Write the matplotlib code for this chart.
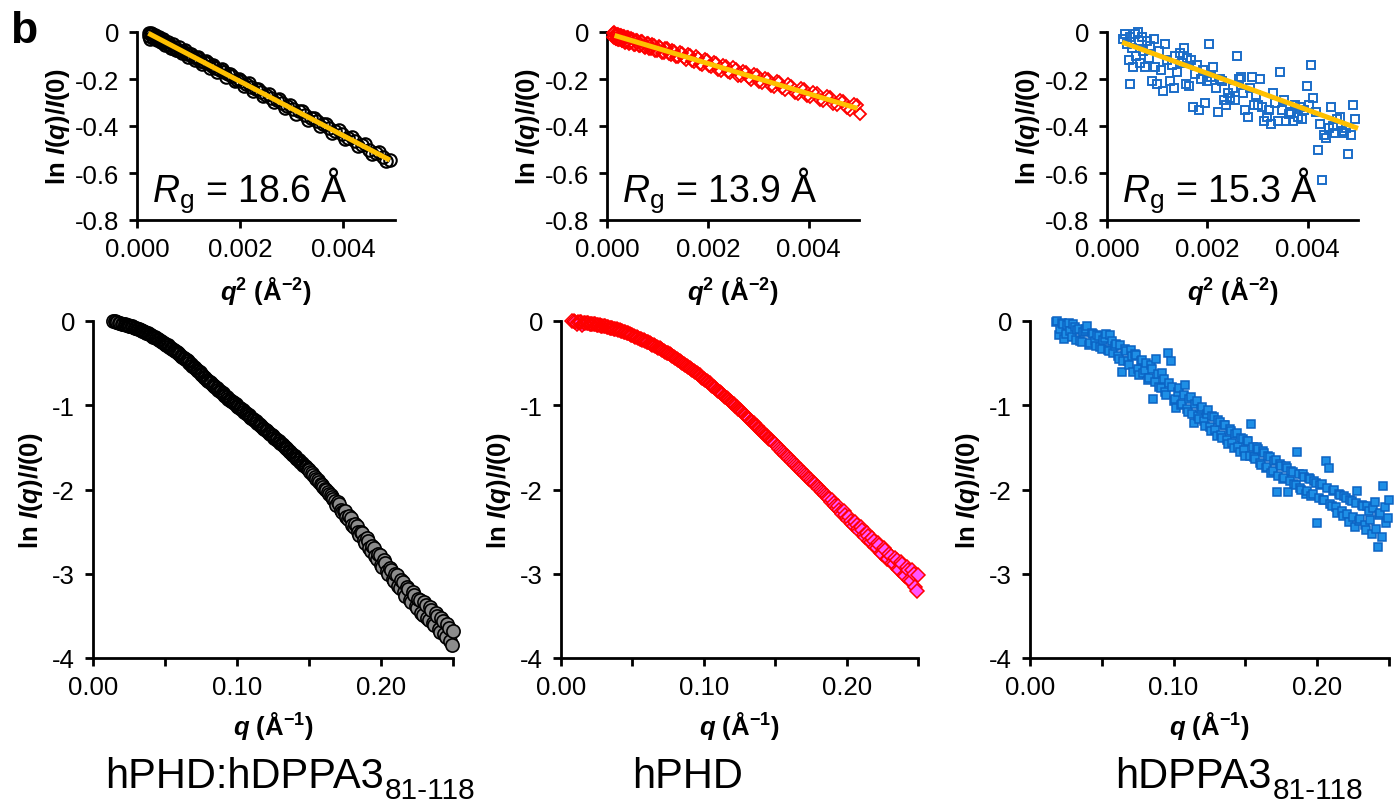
import matplotlib
matplotlib.use("Agg")
import matplotlib.pyplot as plt

plt.rcParams["font.family"] = ["Liberation Sans", "DejaVu Sans"]
plt.rcParams["mathtext.fontset"] = "custom"
plt.rcParams["mathtext.rm"] = "Liberation Sans"
plt.rcParams["mathtext.it"] = "Liberation Sans:italic"
plt.rcParams["mathtext.bf"] = "Liberation Sans:bold"
try:
    plt.rcParams["mathtext.bfit"] = "Liberation Sans:bold:italic"
except KeyError:
    pass
plt.rcParams["axes.unicode_minus"] = False

# ---------------- data ----------------
sample_names = ["hPHD:hDPPA3", "hPHD", "hDPPA3"]
sample_subs = ["81-118", "", "81-118"]
rg_values = [18.6, 13.9, 15.3]          # Angstrom
fit_intercepts = [0.02, -0.005, -0.02]
fit_q2_start = [0.00022, 0.00015, 0.0003]
fit_q2_end = [0.0049, 0.00497, 0.005]

# Guinier region, complex (two interleaved q grids)
guinier_q2_complex = [
    0.000225, 0.000256, 0.000289, 0.000324, 0.000361, 0.000400, 0.000441, 0.000484, 0.000529, 0.000576,
    0.000625, 0.000676, 0.000729, 0.000784, 0.000841, 0.000900, 0.000961, 0.001024, 0.001089, 0.001156,
    0.001225, 0.001296, 0.001369, 0.001444, 0.001521, 0.001600, 0.001681, 0.001764, 0.001849, 0.001936,
    0.002025, 0.002116, 0.002209, 0.002304, 0.002401, 0.002500, 0.002601, 0.002704, 0.002809, 0.002916,
    0.003025, 0.003136, 0.003249, 0.003364, 0.003481, 0.003600, 0.003721, 0.003844, 0.003969, 0.004096,
    0.004225, 0.004356, 0.004489, 0.004624, 0.004761, 0.004900]
guinier_ln_complex = [
    -0.005, -0.028, -0.010, -0.017, -0.022, -0.031, -0.030, -0.041, -0.043, -0.051,
    -0.055, -0.066, -0.062, -0.076, -0.079, -0.082, -0.093, -0.095, -0.107, -0.110,
    -0.122, -0.126, -0.134, -0.143, -0.153, -0.160, -0.172, -0.180, -0.187, -0.204,
    -0.210, -0.222, -0.233, -0.243, -0.254, -0.268, -0.279, -0.288, -0.303, -0.314,
    -0.329, -0.338, -0.355, -0.366, -0.380, -0.393, -0.409, -0.421, -0.436, -0.451,
    -0.465, -0.482, -0.500, -0.513, -0.531, -0.545]
guinier_q2_complex_b = [
    0.000240, 0.000272, 0.000306, 0.000342, 0.000380, 0.000420, 0.000462, 0.000506, 0.000552, 0.000600,
    0.000650, 0.000702, 0.000756, 0.000812, 0.000870, 0.000930, 0.000992, 0.001056, 0.001122, 0.001190,
    0.001260, 0.001332, 0.001406, 0.001482, 0.001560, 0.001640, 0.001722, 0.001806, 0.001892, 0.001980,
    0.002070, 0.002162, 0.002256, 0.002352, 0.002450, 0.002550, 0.002652, 0.002756, 0.002862, 0.002970,
    0.003080, 0.003192, 0.003306, 0.003422, 0.003540, 0.003660, 0.003782, 0.003906, 0.004032, 0.004160,
    0.004290, 0.004422, 0.004556, 0.004692, 0.004830]
guinier_ln_complex_b = [
    -0.018, -0.004, -0.025, -0.012, -0.033, -0.021, -0.043, -0.030, -0.054, -0.041,
    -0.066, -0.052, -0.078, -0.065, -0.091, -0.078, -0.105, -0.093, -0.120, -0.108,
    -0.136, -0.124, -0.153, -0.141, -0.171, -0.159, -0.190, -0.178, -0.210, -0.198,
    -0.230, -0.219, -0.252, -0.241, -0.274, -0.263, -0.298, -0.287, -0.322, -0.311,
    -0.347, -0.337, -0.373, -0.364, -0.400, -0.391, -0.429, -0.419, -0.457, -0.448,
    -0.487, -0.478, -0.518, -0.509, -0.548]

# Guinier region, hPHD
guinier_q2_phd = [
    0.000121, 0.000144, 0.000169, 0.000196, 0.000225, 0.000256, 0.000289, 0.000324, 0.000361, 0.000400,
    0.000441, 0.000484, 0.000529, 0.000576, 0.000625, 0.000676, 0.000729, 0.000784, 0.000841, 0.000900,
    0.000961, 0.001024, 0.001089, 0.001156, 0.001225, 0.001296, 0.001369, 0.001444, 0.001521, 0.001600,
    0.001681, 0.001764, 0.001849, 0.001936, 0.002025, 0.002116, 0.002209, 0.002304, 0.002401, 0.002500,
    0.002601, 0.002704, 0.002809, 0.002916, 0.003025, 0.003136, 0.003249, 0.003364, 0.003481, 0.003600,
    0.003721, 0.003844, 0.003969, 0.004096, 0.004225, 0.004356, 0.004489, 0.004624, 0.004761, 0.004900,
    0.005020]
guinier_ln_phd = [
    -0.020, -0.002, -0.030, -0.008, -0.035, -0.012, -0.040, -0.015, -0.045, -0.020,
    -0.050, -0.026, -0.055, -0.032, -0.060, -0.038, -0.062, -0.045, -0.072, -0.050,
    -0.080, -0.058, -0.088, -0.066, -0.095, -0.075, -0.108, -0.084, -0.112, -0.093,
    -0.125, -0.104, -0.137, -0.117, -0.146, -0.128, -0.160, -0.140, -0.170, -0.150,
    -0.186, -0.165, -0.195, -0.180, -0.212, -0.195, -0.228, -0.208, -0.240, -0.222,
    -0.258, -0.240, -0.272, -0.255, -0.290, -0.272, -0.305, -0.290, -0.322, -0.305,
    -0.350]
guinier_q2_phd_b = [
    0.000110, 0.000132, 0.000156, 0.000182, 0.000210, 0.000240, 0.000272, 0.000306, 0.000342, 0.000380,
    0.000420, 0.000462, 0.000506, 0.000552, 0.000600, 0.000650, 0.000702, 0.000756, 0.000812, 0.000870,
    0.000930, 0.000992, 0.001056, 0.001122, 0.001190, 0.001260, 0.001332, 0.001406, 0.001482, 0.001560,
    0.001640, 0.001722, 0.001806, 0.001892, 0.001980, 0.002070, 0.002162, 0.002256, 0.002352, 0.002450,
    0.002550, 0.002652, 0.002756, 0.002862, 0.002970, 0.003080, 0.003192, 0.003306, 0.003422, 0.003540,
    0.003660, 0.003782, 0.003906, 0.004032, 0.004160, 0.004290, 0.004422, 0.004556, 0.004692, 0.004830,
    0.004970]
guinier_ln_phd_b = [
    -0.005, -0.025, -0.008, -0.030, -0.010, -0.034, -0.014, -0.038, -0.018, -0.042,
    -0.022, -0.048, -0.028, -0.054, -0.034, -0.060, -0.040, -0.066, -0.047, -0.074,
    -0.054, -0.082, -0.062, -0.090, -0.070, -0.099, -0.079, -0.108, -0.088, -0.118,
    -0.099, -0.129, -0.109, -0.140, -0.120, -0.151, -0.132, -0.164, -0.144, -0.176,
    -0.157, -0.189, -0.170, -0.203, -0.184, -0.217, -0.198, -0.232, -0.213, -0.247,
    -0.228, -0.262, -0.244, -0.278, -0.260, -0.295, -0.277, -0.312, -0.295, -0.330,
    -0.312]

# Guinier region, hDPPA3
guinier_q2_dppa3 = [
    0.00031, 0.00036, 0.00039, 0.00043, 0.00046, 0.00046, 0.00049, 0.00052, 0.00055, 0.00058,
    0.00061, 0.00063, 0.00066, 0.00069, 0.00072, 0.00076, 0.00079, 0.00083, 0.00086, 0.00090,
    0.00093, 0.00096, 0.00100, 0.00104, 0.00107, 0.00112, 0.00116, 0.00120, 0.00125, 0.00130,
    0.00133, 0.00136, 0.00140, 0.00145, 0.00150, 0.00153, 0.00157, 0.00160, 0.00163, 0.00168,
    0.00172, 0.00175, 0.00180, 0.00184, 0.00187, 0.00191, 0.00195, 0.00200, 0.00204, 0.00208,
    0.00212, 0.00218, 0.00222, 0.00226, 0.00230, 0.00234, 0.00238, 0.00242, 0.00246, 0.00250,
    0.00255, 0.00258, 0.00262, 0.00267, 0.00271, 0.00275, 0.00280, 0.00284, 0.00288, 0.00292,
    0.00296, 0.00300, 0.00305, 0.00309, 0.00313, 0.00318, 0.00322, 0.00326, 0.00330, 0.00335,
    0.00340, 0.00344, 0.00348, 0.00352, 0.00357, 0.00362, 0.00366, 0.00370, 0.00375, 0.00380,
    0.00384, 0.00388, 0.00393, 0.00398, 0.00402, 0.00407, 0.00411, 0.00416, 0.00420, 0.00424,
    0.00429, 0.00433, 0.00437, 0.00442, 0.00446, 0.00450, 0.00455, 0.00459, 0.00464, 0.00468,
    0.00472, 0.00477, 0.00481, 0.00486, 0.00490, 0.00495]
guinier_ln_dppa3 = [
    -0.03, -0.01, -0.05, -0.12, -0.02, -0.22, -0.07, -0.15, -0.01, -0.10,
    0.00, -0.04, -0.13, -0.02, -0.08, -0.15, -0.04, -0.11, -0.06, -0.21,
    -0.03, -0.15, -0.22, -0.08, -0.16, -0.25, -0.05, -0.12, -0.21, -0.14,
    -0.24, -0.10, -0.17, -0.09, -0.13, -0.07, -0.22, -0.11, -0.23, -0.12,
    -0.32, -0.18, -0.14, -0.33, -0.20, -0.16, -0.30, -0.21, -0.05, -0.19,
    -0.15, -0.24, -0.34, -0.20, -0.21, -0.29, -0.31, -0.26, -0.28, -0.24,
    -0.29, -0.10, -0.20, -0.19, -0.26, -0.33, -0.36, -0.24, -0.19, -0.31,
    -0.27, -0.31, -0.20, -0.32, -0.38, -0.36, -0.33, -0.39, -0.26, -0.30,
    -0.38, -0.17, -0.33, -0.29, -0.38, -0.35, -0.34, -0.38, -0.31, -0.36,
    -0.32, -0.37, -0.33, -0.23, -0.31, -0.14, -0.28, -0.34, -0.50, -0.39,
    -0.63, -0.44, -0.45, -0.41, -0.32, -0.40, -0.43, -0.37, -0.36, -0.42,
    -0.43, -0.41, -0.52, -0.44, -0.31, -0.37]

# Full curves, complex
q_complex = [
    0.014, 0.016, 0.018, 0.020, 0.022, 0.024, 0.026, 0.028, 0.030, 0.032,
    0.034, 0.036, 0.038, 0.040, 0.042, 0.044, 0.046, 0.048, 0.050, 0.052,
    0.054, 0.056, 0.058, 0.060, 0.062, 0.064, 0.066, 0.068, 0.070, 0.072,
    0.074, 0.076, 0.078, 0.080, 0.082, 0.084, 0.086, 0.088, 0.090, 0.092,
    0.094, 0.096, 0.098, 0.100, 0.102, 0.104, 0.106, 0.108, 0.110, 0.112,
    0.114, 0.116, 0.118, 0.120, 0.122, 0.124, 0.126, 0.128, 0.130, 0.132,
    0.134, 0.136, 0.138, 0.140, 0.142, 0.144, 0.146, 0.148, 0.150, 0.152,
    0.154, 0.156, 0.158, 0.160, 0.162, 0.164, 0.166, 0.168, 0.170, 0.172,
    0.174, 0.176, 0.178, 0.180, 0.182, 0.184, 0.186, 0.188, 0.190, 0.192,
    0.194, 0.196, 0.198, 0.200, 0.202, 0.204, 0.206, 0.208, 0.210, 0.212,
    0.214, 0.216, 0.218, 0.220, 0.222, 0.224, 0.226, 0.228, 0.230, 0.232,
    0.234, 0.236, 0.238, 0.240, 0.242, 0.244, 0.246, 0.248, 0.250]
ln_complex = [
    0.0, -0.01, -0.02, -0.03, -0.04, -0.05, -0.06, -0.07, -0.085, -0.10,
    -0.115, -0.13, -0.145, -0.165, -0.185, -0.205, -0.225, -0.245, -0.27, -0.29,
    -0.315, -0.34, -0.37, -0.395, -0.425, -0.45, -0.48, -0.515, -0.545, -0.58,
    -0.61, -0.645, -0.68, -0.71, -0.74, -0.77, -0.80, -0.83, -0.86, -0.89,
    -0.92, -0.95, -0.975, -1.005, -1.035, -1.06, -1.09, -1.12, -1.15, -1.175,
    -1.205, -1.235, -1.265, -1.295, -1.325, -1.355, -1.385, -1.415, -1.445, -1.475,
    -1.51, -1.54, -1.575, -1.605, -1.64, -1.67, -1.705, -1.735, -1.77, -1.81,
    -1.85, -1.89, -1.93, -1.97, -2.01, -2.05, -2.09, -2.135, -2.15, -2.24,
    -2.25, -2.33, -2.32, -2.42, -2.41, -2.51, -2.50, -2.60, -2.58, -2.70,
    -2.67, -2.79, -2.76, -2.90, -2.84, -2.97, -2.93, -3.06, -3.00, -3.14,
    -3.07, -3.22, -3.16, -3.31, -3.22, -3.38, -3.30, -3.46, -3.33, -3.52,
    -3.40, -3.58, -3.47, -3.66, -3.52, -3.72, -3.60, -3.80, -3.68]
q_complex_b = [
    0.015, 0.017, 0.019, 0.021, 0.023, 0.025, 0.027, 0.029, 0.031, 0.033,
    0.035, 0.037, 0.039, 0.041, 0.043, 0.045, 0.047, 0.049, 0.051, 0.053,
    0.055, 0.057, 0.059, 0.061, 0.063, 0.065, 0.067, 0.069, 0.071, 0.073,
    0.075, 0.077, 0.079, 0.081, 0.083, 0.085, 0.087, 0.089, 0.091, 0.093,
    0.095, 0.097, 0.099, 0.101, 0.103, 0.105, 0.107, 0.109, 0.111, 0.113,
    0.115, 0.117, 0.119, 0.121, 0.123, 0.125, 0.127, 0.129, 0.131, 0.133,
    0.135, 0.137, 0.139, 0.141, 0.143, 0.145, 0.147, 0.149, 0.151, 0.153,
    0.155, 0.157, 0.159, 0.161, 0.163, 0.165, 0.167, 0.169, 0.171, 0.173,
    0.175, 0.177, 0.179, 0.181, 0.183, 0.185, 0.187, 0.189, 0.191, 0.193,
    0.195, 0.197, 0.199, 0.201, 0.203, 0.205, 0.207, 0.209, 0.211, 0.213,
    0.215, 0.217, 0.219, 0.221, 0.223, 0.225, 0.227, 0.229, 0.231, 0.233,
    0.235, 0.237, 0.239, 0.241, 0.243, 0.245, 0.247, 0.249]
ln_complex_b = [
    -0.005, -0.015, -0.025, -0.035, -0.045, -0.055, -0.065, -0.078, -0.092, -0.108,
    -0.122, -0.138, -0.155, -0.175, -0.195, -0.215, -0.235, -0.258, -0.28, -0.303,
    -0.328, -0.355, -0.383, -0.41, -0.438, -0.465, -0.498, -0.53, -0.563, -0.595,
    -0.628, -0.663, -0.695, -0.725, -0.755, -0.785, -0.815, -0.845, -0.875, -0.905,
    -0.935, -0.963, -0.99, -1.02, -1.048, -1.075, -1.105, -1.135, -1.163, -1.19,
    -1.22, -1.25, -1.28, -1.31, -1.34, -1.37, -1.40, -1.43, -1.46, -1.493,
    -1.525, -1.558, -1.59, -1.623, -1.655, -1.688, -1.72, -1.753, -1.79, -1.83,
    -1.87, -1.91, -1.95, -1.99, -2.03, -2.07, -2.112, -2.18, -2.17, -2.27,
    -2.26, -2.35, -2.34, -2.45, -2.43, -2.54, -2.52, -2.63, -2.61, -2.73,
    -2.69, -2.82, -2.78, -2.92, -2.87, -3.00, -2.95, -3.09, -3.02, -3.17,
    -3.10, -3.26, -3.18, -3.34, -3.25, -3.41, -3.31, -3.49, -3.37, -3.55,
    -3.43, -3.61, -3.50, -3.69, -3.56, -3.75, -3.64, -3.85]

# Full curves, hPHD
q_phd = [
    0.008, 0.010, 0.012, 0.014, 0.016, 0.018, 0.020, 0.022, 0.024, 0.026,
    0.028, 0.030, 0.032, 0.034, 0.036, 0.038, 0.040, 0.042, 0.044, 0.046,
    0.048, 0.050, 0.052, 0.054, 0.056, 0.058, 0.060, 0.062, 0.064, 0.066,
    0.068, 0.070, 0.072, 0.074, 0.076, 0.078, 0.080, 0.082, 0.084, 0.086,
    0.088, 0.090, 0.092, 0.094, 0.096, 0.098, 0.100, 0.102, 0.104, 0.106,
    0.108, 0.110, 0.112, 0.114, 0.116, 0.118, 0.120, 0.122, 0.124, 0.126,
    0.128, 0.130, 0.132, 0.134, 0.136, 0.138, 0.140, 0.142, 0.144, 0.146,
    0.148, 0.150, 0.152, 0.154, 0.156, 0.158, 0.160, 0.162, 0.164, 0.166,
    0.168, 0.170, 0.172, 0.174, 0.176, 0.178, 0.180, 0.182, 0.184, 0.186,
    0.188, 0.190, 0.192, 0.194, 0.196, 0.198, 0.200, 0.202, 0.204, 0.206,
    0.208, 0.210, 0.212, 0.214, 0.216, 0.218, 0.220, 0.222, 0.224, 0.226,
    0.228, 0.230, 0.232, 0.234, 0.236, 0.238, 0.240, 0.242, 0.244, 0.246,
    0.248, 0.250]
ln_phd = [
    0.0, -0.01, -0.01, -0.015, -0.02, -0.02, -0.03, -0.035, -0.04, -0.05,
    -0.055, -0.06, -0.07, -0.08, -0.085, -0.095, -0.105, -0.115, -0.13, -0.14,
    -0.155, -0.17, -0.185, -0.20, -0.215, -0.23, -0.245, -0.26, -0.28, -0.295,
    -0.315, -0.335, -0.355, -0.375, -0.395, -0.415, -0.44, -0.46, -0.485, -0.505,
    -0.53, -0.555, -0.58, -0.605, -0.63, -0.66, -0.685, -0.715, -0.74, -0.77,
    -0.80, -0.83, -0.855, -0.885, -0.915, -0.945, -0.975, -1.005, -1.04, -1.07,
    -1.10, -1.135, -1.165, -1.20, -1.23, -1.265, -1.30, -1.33, -1.365, -1.40,
    -1.43, -1.465, -1.50, -1.535, -1.57, -1.60, -1.635, -1.67, -1.705, -1.74,
    -1.77, -1.805, -1.84, -1.875, -1.91, -1.94, -1.975, -2.01, -2.045, -2.08,
    -2.11, -2.13, -2.20, -2.20, -2.27, -2.26, -2.34, -2.33, -2.41, -2.39,
    -2.47, -2.45, -2.54, -2.52, -2.61, -2.57, -2.68, -2.63, -2.75, -2.69,
    -2.82, -2.76, -2.87, -2.81, -2.94, -2.86, -3.01, -2.92, -3.07, -2.95,
    -3.16, -3.02]
q_phd_b = [
    0.009, 0.011, 0.013, 0.015, 0.017, 0.019, 0.021, 0.023, 0.025, 0.027,
    0.029, 0.031, 0.033, 0.035, 0.037, 0.039, 0.041, 0.043, 0.045, 0.047,
    0.049, 0.051, 0.053, 0.055, 0.057, 0.059, 0.061, 0.063, 0.065, 0.067,
    0.069, 0.071, 0.073, 0.075, 0.077, 0.079, 0.081, 0.083, 0.085, 0.087,
    0.089, 0.091, 0.093, 0.095, 0.097, 0.099, 0.101, 0.103, 0.105, 0.107,
    0.109, 0.111, 0.113, 0.115, 0.117, 0.119, 0.121, 0.123, 0.125, 0.127,
    0.129, 0.131, 0.133, 0.135, 0.137, 0.139, 0.141, 0.143, 0.145, 0.147,
    0.149, 0.151, 0.153, 0.155, 0.157, 0.159, 0.161, 0.163, 0.165, 0.167,
    0.169, 0.171, 0.173, 0.175, 0.177, 0.179, 0.181, 0.183, 0.185, 0.187,
    0.189, 0.191, 0.193, 0.195, 0.197, 0.199, 0.201, 0.203, 0.205, 0.207,
    0.209, 0.211, 0.213, 0.215, 0.217, 0.219, 0.221, 0.223, 0.225, 0.227,
    0.229, 0.231, 0.233, 0.235, 0.237, 0.239, 0.241, 0.243, 0.245, 0.247,
    0.249]
ln_phd_b = [
    -0.005, -0.04, -0.013, -0.045, -0.02, -0.025, -0.033, -0.038, -0.045, -0.053,
    -0.058, -0.065, -0.075, -0.083, -0.09, -0.10, -0.11, -0.123, -0.135, -0.148,
    -0.163, -0.178, -0.193, -0.208, -0.223, -0.238, -0.253, -0.27, -0.288, -0.305,
    -0.325, -0.345, -0.365, -0.385, -0.405, -0.428, -0.45, -0.473, -0.495, -0.518,
    -0.543, -0.568, -0.593, -0.618, -0.645, -0.673, -0.70, -0.728, -0.755, -0.785,
    -0.815, -0.843, -0.87, -0.90, -0.93, -0.96, -0.99, -1.023, -1.055, -1.085,
    -1.118, -1.15, -1.183, -1.215, -1.248, -1.283, -1.315, -1.348, -1.383, -1.415,
    -1.448, -1.483, -1.518, -1.553, -1.585, -1.618, -1.653, -1.688, -1.723, -1.755,
    -1.788, -1.823, -1.858, -1.893, -1.925, -1.958, -1.993, -2.028, -2.063, -2.095,
    -2.15, -2.16, -2.22, -2.24, -2.29, -2.30, -2.36, -2.37, -2.43, -2.42,
    -2.49, -2.48, -2.56, -2.55, -2.62, -2.61, -2.70, -2.66, -2.77, -2.72,
    -2.82, -2.79, -2.89, -2.84, -2.95, -2.89, -3.03, -2.96, -3.09, -3.00,
    -3.20]

# Full curves, hDPPA3
q_dppa3 = [
    0.018, 0.020, 0.022, 0.024, 0.026, 0.028, 0.030, 0.032, 0.034, 0.036,
    0.038, 0.040, 0.042, 0.044, 0.046, 0.048, 0.050, 0.052, 0.054, 0.056,
    0.058, 0.060, 0.062, 0.064, 0.066, 0.068, 0.070, 0.072, 0.074, 0.076,
    0.078, 0.080, 0.082, 0.084, 0.086, 0.088, 0.090, 0.092, 0.094, 0.096,
    0.098, 0.100, 0.102, 0.104, 0.106, 0.108, 0.110, 0.112, 0.114, 0.116,
    0.118, 0.120, 0.122, 0.124, 0.126, 0.128, 0.130, 0.132, 0.134, 0.136,
    0.138, 0.140, 0.142, 0.144, 0.146, 0.148, 0.150, 0.152, 0.154, 0.156,
    0.158, 0.160, 0.162, 0.164, 0.166, 0.168, 0.170, 0.172, 0.174, 0.176,
    0.178, 0.180, 0.182, 0.184, 0.186, 0.188, 0.190, 0.192, 0.194, 0.196,
    0.198, 0.200, 0.202, 0.204, 0.206, 0.208, 0.210, 0.212, 0.214, 0.216,
    0.218, 0.220, 0.222, 0.224, 0.226, 0.228, 0.230, 0.232, 0.234, 0.236,
    0.238, 0.240, 0.242, 0.244, 0.246, 0.248, 0.250]
ln_dppa3 = [
    -0.01, -0.17, -0.02, -0.21, -0.05, -0.12, -0.03, -0.22, -0.09, -0.25,
    -0.12, -0.06, -0.26, -0.15, -0.30, -0.18, -0.33, -0.20, -0.35, -0.17,
    -0.38, -0.27, -0.45, -0.61, -0.33, -0.48, -0.35, -0.60, -0.40, -0.64,
    -0.46, -0.58, -0.70, -0.52, -0.93, -0.45, -0.78, -0.62, -0.84, -0.38,
    -0.48, -0.95, -1.03, -0.80, -0.98, -0.76, -1.08, -0.90, -1.21, -0.95,
    -1.16, -1.02, -1.25, -1.06, -1.31, -1.14, -1.37, -1.20, -1.39, -1.24,
    -1.46, -1.30, -1.51, -1.33, -1.55, -1.40, -1.60, -1.43, -1.22, -1.62,
    -1.50, -1.68, -1.54, -1.75, -1.60, -1.81, -1.66, -2.03, -1.70, -1.88,
    -1.72, -2.03, -1.78, -1.93, -1.56, -1.98, -1.82, -2.05, -1.86, -2.08,
    -1.90, -2.40, -1.95, -2.12, -1.66, -1.74, -2.20, -2.00, -2.28, -2.06,
    -2.31, -2.10, -2.38, -2.14, -2.45, -2.02, -2.35, -2.19, -2.48, -2.25,
    -2.53, -2.15, -2.68, -2.28, -1.96, -2.40, -2.12]
q_dppa3_b = [
    0.019, 0.021, 0.023, 0.025, 0.027, 0.029, 0.031, 0.033, 0.035, 0.037,
    0.039, 0.041, 0.043, 0.045, 0.047, 0.049, 0.051, 0.053, 0.055, 0.057,
    0.059, 0.061, 0.063, 0.065, 0.067, 0.069, 0.071, 0.073, 0.075, 0.077,
    0.079, 0.081, 0.083, 0.085, 0.087, 0.089, 0.091, 0.093, 0.095, 0.097,
    0.099, 0.101, 0.103, 0.105, 0.107, 0.109, 0.111, 0.113, 0.115, 0.117,
    0.119, 0.121, 0.123, 0.125, 0.127, 0.129, 0.131, 0.133, 0.135, 0.137,
    0.139, 0.141, 0.143, 0.145, 0.147, 0.149, 0.151, 0.153, 0.155, 0.157,
    0.159, 0.161, 0.163, 0.165, 0.167, 0.169, 0.171, 0.173, 0.175, 0.177,
    0.179, 0.181, 0.183, 0.185, 0.187, 0.189, 0.191, 0.193, 0.195, 0.197,
    0.199, 0.201, 0.203, 0.205, 0.207, 0.209, 0.211, 0.213, 0.215, 0.217,
    0.219, 0.221, 0.223, 0.225, 0.227, 0.229, 0.231, 0.233, 0.235, 0.237,
    0.239, 0.241, 0.243, 0.245, 0.247, 0.249]
ln_dppa3_b = [
    0.00, -0.10, -0.04, -0.16, -0.02, -0.19, -0.07, -0.11, -0.24, -0.13,
    -0.10, -0.28, -0.14, -0.24, -0.17, -0.31, -0.22, -0.16, -0.36, -0.24,
    -0.30, -0.42, -0.28, -0.47, -0.36, -0.52, -0.41, -0.39, -0.57, -0.47,
    -0.62, -0.50, -0.68, -0.57, -0.72, -0.63, -0.80, -0.69, -0.88, -0.74,
    -0.78, -0.92, -0.84, -1.00, -0.88, -1.04, -0.92, -1.10, -0.99, -1.13,
    -1.04, -1.19, -1.10, -1.26, -1.13, -1.29, -1.18, -1.35, -1.23, -1.41,
    -1.28, -1.45, -1.34, -1.50, -1.39, -1.53, -1.43, -1.60, -1.49, -1.64,
    -1.52, -1.71, -1.57, -1.73, -1.62, -1.78, -1.65, -1.84, -1.72, -1.86,
    -1.75, -1.90, -1.79, -1.95, -1.82, -2.00, -1.85, -2.02, -1.88, -2.05,
    -1.92, -2.10, -1.94, -2.13, -1.98, -2.17, -2.02, -2.21, -2.05, -2.25,
    -2.08, -2.29, -2.12, -2.33, -2.16, -2.37, -2.18, -2.42, -2.20, -2.36,
    -2.22, -2.47, -2.30, -2.56, -2.21, -2.34]


def merged(xa, ya, xb=(), yb=()):
    """Combine two interleaved q grids into one series ordered by q."""
    pairs = sorted(list(zip(xa, ya)) + list(zip(xb, yb)))
    return [p[0] for p in pairs], [p[1] for p in pairs]


guinier_series = [
    merged(guinier_q2_complex, guinier_ln_complex, guinier_q2_complex_b, guinier_ln_complex_b),
    merged(guinier_q2_phd, guinier_ln_phd, guinier_q2_phd_b, guinier_ln_phd_b),
    (guinier_q2_dppa3, guinier_ln_dppa3),
]
full_series = [
    merged(q_complex, ln_complex, q_complex_b, ln_complex_b),
    merged(q_phd, ln_phd, q_phd_b, ln_phd_b),
    merged(q_dppa3, ln_dppa3, q_dppa3_b, ln_dppa3_b),
]

# ---------------- figure ----------------
W, H = 1397, 803
fig = plt.figure(figsize=(W / 100, H / 100), dpi=100)

top_boxes = [(137, 395, 33, 221), (607, 859, 33, 221), (1107, 1358, 33, 221)]
bottom_boxes = [(93, 453, 322, 659), (561, 918, 322, 659), (1030, 1389, 322, 659)]

top_markers = [
    dict(marker="o", ms=9.0, mfc="none", mec="black", mew=1.5),
    dict(marker="D", ms=6.5, mfc="none", mec="#ff0000", mew=1.3),
    dict(marker="s", ms=6.4, mfc="none", mec="#1a6cc8", mew=1.4),
]
# (marker, size, face, edge, edge width, q below which the dense outlines are stacked on top)
bottom_markers = [
    ("o", 9.5, "#8c8c8c", "black", 1.2, 0.15),
    ("D", 7.2, "#ff55ff", "#ff0000", 1.1, 0.15),
    ("s", 6.2, "#1e8fe6", "#0b63c4", 1.1, 0.0),
]
FIT_COLOR = "#ffc000"
TICK_SIZE = 18.5
LABEL_SIZE = 18.5


def add_axes_px(box):
    left, right, top, bottom = box
    return fig.add_axes([left / W, 1 - bottom / H, (right - left) / W, (bottom - top) / H])


def style_axes(ax):
    for s in ("top", "right"):
        ax.spines[s].set_visible(False)
    for s in ("left", "bottom"):
        ax.spines[s].set_linewidth(2.0)
        ax.spines[s].set_color("black")
    ax.tick_params(direction="out", width=2.0, length=6, labelsize=TICK_SIZE, colors="black")
    ax.tick_params(axis="y", pad=7)
    ax.tick_params(axis="x", pad=6)


ylabel_text = r"ln $\mathbfit{I}$($\mathbfit{q}$)/$\mathbfit{I}$(0)"

for i in range(3):
    # Guinier plots
    ax = add_axes_px(top_boxes[i])
    style_axes(ax)
    gx, gy = guinier_series[i]
    ax.plot(gx, gy, linestyle="none", clip_on=False, zorder=3, **top_markers[i])
    xs = [fit_q2_start[i], fit_q2_end[i]]
    ys = [fit_intercepts[i] - rg_values[i] ** 2 / 3.0 * x for x in xs]
    ax.plot(xs, ys, color=FIT_COLOR, lw=3.6, solid_capstyle="butt", zorder=4, clip_on=False)
    ax.set_xlim(0, 0.005)
    ax.set_ylim(-0.8, 0)
    ax.set_xticks([0, 0.002, 0.004])
    ax.set_xticklabels(["0.000", "0.002", "0.004"])
    ax.set_yticks([0, -0.2, -0.4, -0.6, -0.8])
    ax.set_yticklabels(["0", "-0.2", "-0.4", "-0.6", "-0.8"])
    ax.set_xlabel(r"$\mathbfit{q}^{\mathbf{2}}$ (Å$^{\mathbf{-2}}$)", fontsize=LABEL_SIZE, fontweight="bold")
    ax.set_ylabel(ylabel_text, fontsize=LABEL_SIZE, fontweight="bold")
    w_px = top_boxes[i][1] - top_boxes[i][0]
    h_px = top_boxes[i][3] - top_boxes[i][2]
    ax.yaxis.set_label_coords(-79 / w_px, 0.5)
    ax.yaxis.label.set_va("center")
    ax.xaxis.set_label_coords(0.5, -70 / h_px)
    ax.xaxis.label.set_va("center")
    ax.text(15 / w_px, 19 / h_px, r"$\mathit{R}_{\mathrm{g}}$" + " = %.1f Å" % rg_values[i],
            transform=ax.transAxes, fontsize=27, ha="left", va="baseline")

    # Full scattering curves
    ax = add_axes_px(bottom_boxes[i])
    style_axes(ax)
    fx, fy = full_series[i]
    mk, ms, face, edge, mew, q_dense = bottom_markers[i]
    lo_x = [x for x in fx if x < q_dense]
    lo_y = [y for x, y in zip(fx, fy) if x < q_dense]
    hi_x = [x for x in fx if x >= q_dense]
    hi_y = [y for x, y in zip(fx, fy) if x >= q_dense]
    if lo_x:
        # densely packed low-q points: all fills first, outlines stacked above
        ax.plot(lo_x, lo_y, linestyle="none", marker=mk, ms=ms, mfc=face, mec="none",
                clip_on=False, zorder=3)
        ax.plot(lo_x, lo_y, linestyle="none", marker=mk, ms=ms, mfc="none", mec=edge, mew=mew,
                clip_on=False, zorder=3.1)
    ax.plot(hi_x, hi_y, linestyle="none", marker=mk, ms=ms, mfc=face, mec=edge, mew=mew,
            clip_on=False, zorder=3.2)
    ax.set_xlim(0, 0.25)
    ax.set_ylim(-4, 0)
    ax.set_xticks([0, 0.05, 0.10, 0.15, 0.20, 0.25])
    ax.set_xticklabels(["0.00", "", "0.10", "", "0.20", ""])
    ax.set_yticks([0, -1, -2, -3, -4])
    ax.set_yticklabels(["0", "-1", "-2", "-3", "-4"])
    ax.set_xlabel(r"$\mathbfit{q}$ (Å$^{\mathbf{-1}}$)", fontsize=LABEL_SIZE, fontweight="bold")
    ax.set_ylabel(ylabel_text, fontsize=LABEL_SIZE, fontweight="bold")
    w_px = bottom_boxes[i][1] - bottom_boxes[i][0]
    h_px = bottom_boxes[i][3] - bottom_boxes[i][2]
    ax.yaxis.set_label_coords(-62 / w_px, 0.5)
    ax.yaxis.label.set_va("center")
    ax.xaxis.set_label_coords(0.5, -67 / h_px)
    ax.xaxis.label.set_va("center")

# Panel letter
fig.text(10 / W, 1 - 11 / H, "b", fontsize=32, fontweight="bold", ha="left", va="top")

# Sample names with subscripts
renderer = fig.canvas.get_renderer()
name_x = [105, 688, 1115]
name_align = ["left", "center", "left"]
for i in range(3):
    t = fig.text(name_x[i] / W, (H - 788) / H, sample_names[i], fontsize=30,
                 ha=name_align[i], va="baseline")
    if sample_subs[i]:
        bb = t.get_window_extent(renderer=renderer)
        fig.text((bb.x1 + 1) / W, (H - 799) / H, sample_subs[i], fontsize=21.5,
                 ha="left", va="baseline")

fig.savefig("out.png", dpi=100)
